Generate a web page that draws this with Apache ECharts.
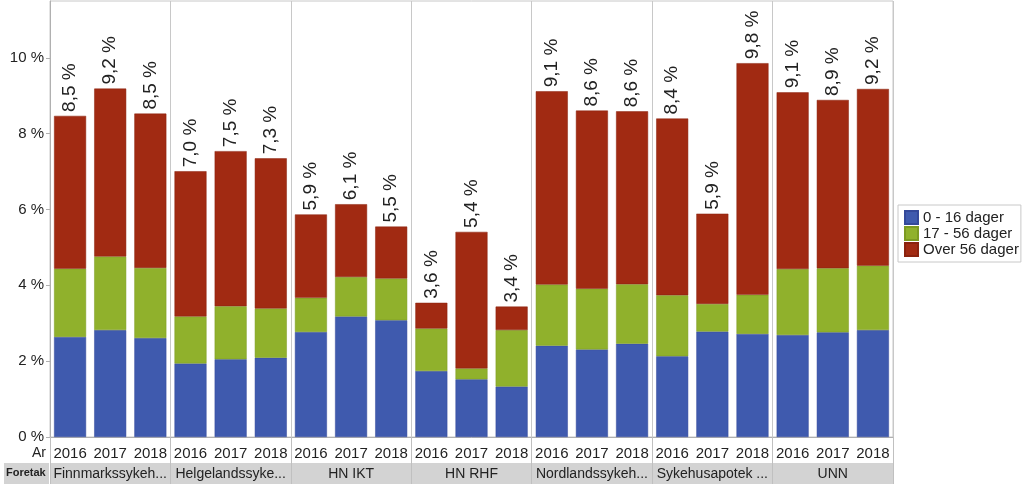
<!DOCTYPE html>
<html>
<head>
<meta charset="utf-8">
<script src="https://cdn.jsdelivr.net/npm/echarts@6/dist/echarts.min.js"></script>
<style>html,body{margin:0;padding:0;background:#fff;}#c{width:1024px;height:488px;}</style>
</head>
<body>
<div id="c"></div>
<script>
const companies = ['Finnmarkssykeh...', 'Helgelandssyke...', 'HN IKT', 'HN RHF', 'Nordlandssykeh...', 'Sykehusapotek ...', 'UNN'];
const years = ['2016', '2017', '2018'];
const seriesNames = ['0 - 16 dager', '17 - 56 dager', 'Over 56 dager'];
// values in percent, per company x year (21 bars)
const short = [2.64, 2.82, 2.61, 1.94, 2.05, 2.09, 2.77, 3.18, 3.08, 1.74, 1.52, 1.33, 2.41, 2.31, 2.46, 2.13, 2.78, 2.72, 2.69, 2.76, 2.82];
const medium = [1.80, 1.94, 1.85, 1.24, 1.40, 1.30, 0.90, 1.04, 1.10, 1.12, 0.29, 1.49, 1.61, 1.60, 1.57, 1.61, 0.73, 1.03, 1.74, 1.69, 1.70];
const long = [4.03, 4.43, 4.07, 3.83, 4.09, 3.96, 2.20, 1.92, 1.37, 0.68, 3.60, 0.62, 5.10, 4.70, 4.56, 4.66, 2.38, 6.11, 4.66, 4.44, 4.66];
const totalLabels = ['8,5 %', '9,2 %', '8,5 %', '7,0 %', '7,5 %', '7,3 %', '5,9 %', '6,1 %', '5,5 %', '3,6 %', '5,4 %', '3,4 %', '9,1 %', '8,6 %', '8,6 %', '8,4 %', '5,9 %', '9,8 %', '9,1 %', '8,9 %', '9,2 %'];
const yTicks = [0, 2, 4, 6, 8, 10];

const yearCats = [];
companies.forEach(() => years.forEach(y => yearCats.push(y)));

const FONT = 'Liberation Sans, Arial, sans-serif';
const colors = ['#3f5aae', '#90b12c', '#a12a12'];

const chart = echarts.init(document.getElementById('c'), null, {renderer: 'canvas'});
chart.setOption({
  animation: false,
  textStyle: {fontFamily: FONT},
  color: colors,
  grid: {left: 50, right: 131, top: 1, bottom: 51, show: true, borderColor: '#c8c8c8', borderWidth: 1},
  legend: {
    orient: 'vertical', left: 898, top: 205,
    data: seriesNames, icon: 'rect', itemWidth: 13, itemHeight: 13, itemGap: 1,
    padding: [5, 2, 5, 6], borderColor: '#c8c8c8', borderWidth: 1,
    textStyle: {fontSize: 15, color: '#222', fontFamily: FONT}
  },
  xAxis: [
    {
      type: 'category', data: yearCats, position: 'bottom',
      axisLine: {lineStyle: {color: '#b0b0b0'}},
      axisTick: {alignWithLabel: true, length: 4, lineStyle: {color: '#c0c0c0'}},
      axisLabel: {interval: 0, fontSize: 15, color: '#222', margin: 9}
    },
    {
      type: 'category', data: companies, position: 'bottom', offset: 0,
      axisLine: {show: false},
      axisTick: {show: true, length: 47, lineStyle: {color: '#c0c0c0'}},
      splitLine: {show: true, lineStyle: {color: '#c8c8c8'}},
      axisLabel: {interval: 0, fontSize: 14, color: '#222', margin: 30}
    }
  ],
  yAxis: {
    type: 'value', min: 0, max: 11.5, interval: 2,
    axisLine: {show: true, lineStyle: {color: '#b0b0b0'}},
    axisTick: {show: true, length: 4, customValues: yTicks, lineStyle: {color: '#b0b0b0'}},
    splitLine: {show: false},
    axisLabel: {fontSize: 15, color: '#222', margin: 6, customValues: yTicks,
      formatter: v => v + ' %'}
  },
  graphic: [
    {type: 'rect', z: -1, shape: {x: 50, y: 463, width: 843, height: 21}, style: {fill: '#d3d3d3'}},
    {type: 'rect', z: -1, shape: {x: 4, y: 463, width: 45, height: 21}, style: {fill: '#d3d3d3'}},
    {type: 'text', left: 6, top: 467, style: {text: 'Foretak', font: 'bold 11px ' + FONT, fill: '#222'}},
    {type: 'text', left: 32, top: 446, style: {text: 'Ar', font: '14px ' + FONT, fill: '#222'}}
  ],
  series: [
    {name: seriesNames[0], type: 'bar', stack: 't', data: short, barWidth: 32,
      itemStyle: {color: colors[0], borderColor: '#34499a', borderWidth: 0.5}},
    {name: seriesNames[1], type: 'bar', stack: 't', data: medium, barWidth: 32,
      itemStyle: {color: colors[1], borderColor: '#7c9a22', borderWidth: 0.5}},
    {name: seriesNames[2], type: 'bar', stack: 't', data: long, barWidth: 32,
      itemStyle: {color: colors[2], borderColor: '#8a220e', borderWidth: 0.5},
      label: {show: true, position: 'top', rotate: 90, align: 'left', verticalAlign: 'middle',
        distance: 4, fontSize: 19, color: '#222', fontFamily: FONT,
        formatter: p => totalLabels[p.dataIndex]}}
  ]
});
</script>
</body>
</html>
